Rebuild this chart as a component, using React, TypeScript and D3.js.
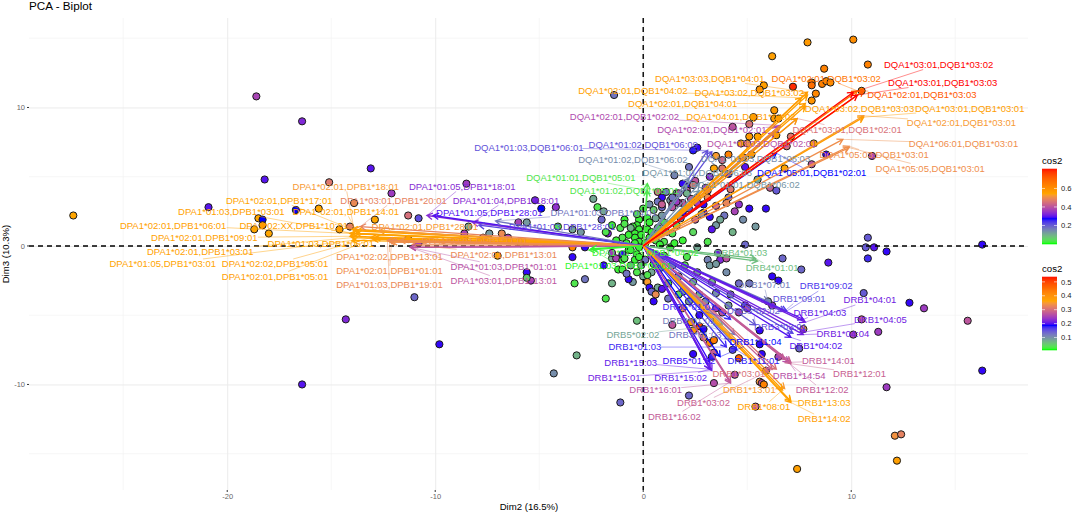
import React, { useEffect, useRef } from "react";
import * as d3 from "d3";

// [dim2, dim3, cos2]
type Ind = [number, number, number];
// [name, tip dim2, tip dim3, label dim2, label dim3, cos2]
type Var = [string, number, number, number, number, number];

const leftInds: Ind[] = [
  [-27.4, 2.2, 0.36], [-18.6, 10.8, 0.25], [-16.4, 9.0, 0.22], [-18.2, 4.8, 0.2], [-20.9, 2.8, 0.2],
  [-15.1, 4.6, 0.31], [-13.1, 5.6, 0.2], [-18.5, 2.0, 0.36], [-18.3, 1.9, 0.185], [-18.3, 1.5, 0.38],
  [-18.7, 1.2, 0.36], [-18.0, 0.9, 0.36], [-16.7, 2.6, 0.185], [-15.6, 2.7, 0.36], [-14.6, 1.2, 0.37],
  [-14.1, 1.4, 0.32], [-13.9, 3.1, 0.33], [-8.5, 4.5, 0.24], [-12.1, 3.8, 0.24], [-12.9, 1.9, 0.36],
  [-11.3, 2.2, 0.3], [-10.8, 2.0, 0.15], [-5.2, 3.3, 0.21], [-4.9, 2.7, 0.185], [-4.2, 2.8, 0.23],
  [-2.4, 3.4, 0.08], [-2.2, 2.8, 0.03], [-1.9, 2.5, 0.08], [-0.9, 1.9, 0.02], [-2.0, 1.9, 0.13],
  [-5.6, 1.7, 0.09], [-6.0, 1.7, 0.25], [-4.1, 1.4, 0.03], [-3.4, 1.2, 0.08], [-3.0, 1.0, 0.09],
  [-1.7, 0.9, 0.22], [-8.4, 1.4, 0.08], [-8.6, 0.6, 0.36], [-8.6, 0.9, 0.25], [-11.3, 0.5, 0.37],
  [-10.8, 0.2, 0.25], [-7.7, 0.6, 0.33], [-7.4, 0.9, 0.09], [-6.8, 0.9, 0.33], [-6.5, 0.6, 0.25],
  [-5.9, 0.2, 0.05], [-3.4, -0.1, 0.42], [-2.8, -0.1, 0.19], [-3.4, -0.8, 0.19], [-1.9, -1.4, 0.19],
  [-5.6, -1.9, 0.19], [-5.4, -2.5, 0.24], [-5.6, -2.3, 0.05], [-3.3, -2.7, 0.03], [-2.8, -2.4, 0.12],
  [-1.5, -2.7, 0.07], [-1.8, -3.8, 0.03], [-11.0, -3.7, 0.13], [-7.0, -0.7, 0.36], [-14.3, -5.3, 0.22],
  [-9.8, -7.1, 0.19], [-4.3, -9.2, 0.1], [-3.2, -7.9, 0.07], [-1.1, -11.3, 0.13], [-16.4, -10.0, 0.2],
  [-0.3, -5.4, 0.06], [2.2, -10.8, 0.13],
];

const upperInds: Ind[] = [
  [10.1, 14.9, 0.4], [7.9, 14.7, 0.38], [6.2, 13.7, 0.37], [10.8, 13.1, 0.42], [8.7, 12.8, 0.42],
  [8.1, 11.8, 0.43], [8.1, 11.6, 0.45], [7.2, 11.5, 0.52], [5.8, 11.6, 0.37], [5.6, 11.3, 0.39],
  [8.6, 11.7, 0.42], [8.8, 11.9, 0.41], [9.0, 11.8, 0.4], [10.5, 11.2, 0.41], [8.3, 11.0, 0.41],
  [8.1, 10.5, 0.39], [6.3, 9.8, 0.38], [6.3, 9.2, 0.38], [6.5, 9.2, 0.37], [5.3, 9.3, 0.37],
  [5.1, 8.8, 0.31], [4.3, 8.6, 0.27], [5.1, 7.9, 0.38], [5.5, 7.9, 0.36], [6.4, 8.0, 0.36],
  [7.1, 7.9, 0.31], [4.7, 7.4, 0.36], [5.0, 7.4, 0.34], [6.9, 7.2, 0.3], [8.2, 7.4, 0.36],
  [8.8, 6.6, 0.19], [11.0, 6.5, 0.25], [8.1, 5.9, 0.27], [6.8, 5.6, 0.36], [5.5, 4.8, 0.08],
  [6.1, 4.2, 0.28], [6.4, 4.0, 0.14], [4.6, 3.0, 0.23], [5.1, 2.7, 0.19], [5.9, 2.7, 0.19],
  [4.1, 3.5, 0.14], [4.0, 3.1, 0.32], [-1.4, 10.9, 0.12], [2.6, 7.1, 0.19], [2.4, 6.9, 0.18],
  [4.1, 6.6, 0.42], [3.5, 6.5, 0.35], [5.2, 6.6, 0.37], [4.8, 6.4, 0.35], [3.8, 6.2, 0.29],
  [3.4, 5.6, 0.36], [4.9, 5.7, 0.2], [4.1, 5.2, 0.19], [3.8, 5.6, 0.31], [2.2, 5.7, 0.12],
  [1.5, 5.1, 0.11], [3.2, 5.0, 0.22], [2.5, 4.7, 0.27], [2.1, 4.3, 0.19], [1.9, 4.5, 0.19],
  [2.4, 4.4, 0.31], [3.0, 4.2, 0.24], [4.2, 4.1, 0.31], [0.7, 3.9, 0.29], [0.9, 3.5, 0.19],
  [0.7, 3.2, 0.12], [0.9, 2.8, 0.13], [1.3, 3.3, 0.09], [1.6, 3.8, 0.1], [1.7, 3.8, 0.27],
  [2.1, 4.0, 0.27], [1.9, 3.1, 0.27], [1.7, 3.1, 0.26], [1.4, 3.0, 0.26], [2.6, 3.5, 0.28],
  [3.1, 4.0, 0.27], [3.1, 3.5, 0.33], [2.9, 3.0, 0.19], [2.6, 3.1, 0.24],
  [2.3, 3.4, 0.27], [3.5, 2.9, 0.28], [2.9, 2.4, 0.2], [1.9, 2.4, 0.19], [4.4, 2.5, 0.25],
  [3.9, 2.2, 0.12], [4.8, 1.9, 0.1], [5.4, 1.4, 0.09], [4.3, 1.0, 0.07], [0.9, 2.2, 0.09],
  [1.8, 2.0, 0.1], [0.3, 3.0, 0.1], [1.1, 3.9, 0.12], [2.8, 2.3, 0.1],
];

const lowerInds: Ind[] = [
  [12.8, -4.1, 0.19], [13.5, -4.5, 0.24], [10.6, -3.4, 0.14], [10.5, -5.3, 0.28], [10.1, -6.4, 0.25],
  [11.3, -6.2, 0.24], [7.5, -7.4, 0.13], [7.7, -6.0, 0.34], [11.7, -10.2, 0.24], [12.1, -13.7, 0.34],
  [12.4, -13.6, 0.32], [12.2, -15.5, 0.37], [7.4, -16.1, 0.37], [5.4, -11.6, 0.28], [8.9, -1.2, 0.2],
  [7.6, -1.7, 0.13], [6.7, -0.9, 0.13], [6.2, -2.2, 0.19], [6.5, -2.5, 0.19], [4.6, -2.7, 0.13],
  [5.1, -2.7, 0.12], [6.2, -4.3, 0.23], [6.0, -4.0, 0.1], [4.2, -3.5, 0.07], [3.5, -3.4, 0.1],
  [2.7, -3.5, 0.07], [4.9, -4.3, 0.15], [4.1, -4.3, 0.09], [3.8, -4.8, 0.27], [4.6, -4.8, 0.25],
  [5.0, -4.5, 0.26], [3.5, -4.5, 0.24], [2.7, -5.0, 0.19], [1.9, -4.5, 0.34], [2.2, -4.0, 0.09],
  [1.4, -5.7, 0.27], [2.3, -5.5, 0.36], [2.4, -6.1, 0.38], [2.7, -5.8, 0.5], [2.9, -6.0, 0.19],
  [2.9, -6.6, 0.33], [3.2, -7.0, 0.4], [3.4, -6.8, 0.43], [3.4, -7.7, 0.28], [2.4, -7.8, 0.19],
  [3.3, -8.0, 0.17], [4.3, -7.5, 0.15], [5.6, -6.1, 0.19], [5.6, -7.1, 0.19], [5.7, -7.8, 0.19],
  [6.5, -8.0, 0.25], [4.6, -8.1, 0.47], [5.9, -9.0, 0.26], [4.4, -9.3, 0.25], [3.4, -9.9, 0.26],
  [5.6, -9.8, 0.34], [5.7, -9.9, 0.27], [5.8, -10.0, 0.42], [3.6, -0.5, 0.21], [3.7, -1.0, 0.22],
  [4.0, -0.9, 0.27], [3.1, -1.0, 0.11], [3.2, -1.4, 0.09], [3.5, -1.3, 0.09], [4.9, 0.1, 0.13],
  [2.6, -0.1, 0.08], [10.7, -0.1, 0.14], [11.1, -0.1, 0.2], [11.7, -0.4, 0.19], [10.8, -0.9, 0.17],
  [10.8, 0.6, 0.14], [16.3, 0.1, 0.19], [16.3, -9.0, 0.19], [15.6, -5.4, 0.27],
  [0.5, -4.0, 0.19], [1.2, -3.8, 0.12], [1.9, -3.3, 0.08], [3.0, -4.0, 0.1], [3.3, -2.6, 0.07],
  [4.0, -1.9, 0.1], [2.6, -1.9, 0.08],
];

const centreInds: Ind[] = [
  [-1.5, -0.9, 0.08], [-0.6, -1.4, 0.07], [-0.5, -2.6, 0.09], [0.8, -1.6, 0.09], [1.4, -1.4, 0.07],
  [1.7, -2.2, 0.06], [2.4, -2.6, 0.07],
  [0.0, 2.7, 0.03], [0.2, 2.0, 0.02], [-0.2, 1.9, 0.02], [0.6, 2.0, 0.08], [-0.3, 1.5, 0.02],
  [-0.5, 1.4, 0.02], [0.2, 1.2, 0.02], [-0.2, 1.2, 0.02], [-0.4, 0.9, 0.02], [-0.6, 1.3, 0.07],
  [-0.1, 0.8, 0.02], [-0.4, 0.6, 0.02], [-0.2, 0.3, 0.02], [0.7, 1.3, 0.02], [0.8, 0.9, 0.02],
  [1.1, 1.0, 0.07], [1.9, 0.4, 0.02], [1.4, 0.9, 0.03], [2.4, 1.0, 0.04], [3.1, 0.3, 0.03],
  [3.5, 1.5, 0.09], [3.3, 1.2, 0.2], [2.5, 1.9, 0.27], [3.7, 1.9, 0.08], [3.2, 2.1, 0.19],
  [2.2, 2.7, 0.13], [1.4, 2.8, 0.27], [1.6, 3.2, 0.24], [0.9, 3.0, 0.28], [2.1, 3.8, 0.07],
  [1.4, 3.5, 0.12], [0.3, 1.7, 0.02], [-0.7, 0.8, 0.02], [-1.0, 0.6, 0.03], [0.3, 0.6, 0.02],
  [-0.4, 0.2, 0.02], [0.1, 0.2, 0.02], [0.6, 0.4, 0.03], [1.0, 0.3, 0.03], [-1.1, 1.3, 0.03],
  [-1.5, 1.5, 0.02], [-1.3, -0.9, 0.25], [-1.0, -1.0, 0.02], [-0.7, -0.3, 0.02], [-0.3, -0.6, 0.02],
  [-0.2, -0.1, 0.02], [-0.4, -1.0, 0.02], [-1.2, -1.7, 0.02], [-1.0, -1.7, 0.03], [0.1, -1.0, 0.12],
  [-0.1, -1.4, 0.08], [-1.0, -0.6, 0.19], [-1.5, -0.5, 0.24], [-0.7, -2.4, 0.19], [-0.8, -2.0, 0.12],
  [0.0, -2.2, 0.08], [-0.3, -1.9, 0.03], [0.2, -2.6, 0.35], [0.3, -3.0, 0.19], [0.4, -3.3, 0.13],
  [0.6, -3.5, 0.33], [0.7, -3.0, 0.08], [0.9, -3.1, 0.2], [0.4, -1.9, 0.08], [0.2, -2.1, 0.03],
  [1.2, -2.7, 0.03], [2.0, -1.4, 0.03], [2.1, -0.8, 0.03], [1.3, -0.1, 0.02], [0.8, 0.1, 0.02],
  [1.7, -3.5, 0.04],
  [-1.8, 1.0, 0.03], [-1.3, 0.4, 0.02], [-0.8, 0.2, 0.02], [-0.6, -0.3, 0.02], [-0.9, -0.9, 0.03],
  [-0.2, -0.8, 0.02], [0.4, -0.5, 0.02], [0.5, -1.3, 0.03], [1.0, -0.7, 0.03], [1.5, 0.2, 0.02],
  [0.4, 1.0, 0.02], [-0.9, 1.6, 0.03], [-0.3, 2.3, 0.03], [0.5, 2.6, 0.05], [1.0, 1.7, 0.03],
  [1.6, 1.5, 0.04],
];

const dpVars: Var[] = [
  ["DPA1*02:01,DPB1*18:01", -13.9, 1.2, -14.3, 4.3, 0.52],
  ["DPA1*02:01,DPB1*17:01", -14, 1.2, -17.5, 3.3, 0.54],
  ["DPA1*03:01,DPB1*20:01", -13.6, 1.4, -12, 3.3, 0.48],
  ["DPA1*01:03,DPB1*03:01", -14, 0.9, -19.8, 2.5, 0.55],
  ["DPA1*02:01,DPB1*14:01", -13.8, 1.1, -14.3, 2.5, 0.55],
  ["DPA1*02:01,DPB1*06:01", -14.1, 0.9, -22.6, 1.5, 0.55],
  ["DPA1*02:XX,DPB1*10:01", -13.8, 0.9, -16.8, 1.5, 0.55],
  ["DPA1*02:01,DPB1*09:01", -14.1, 0.7, -21.1, 0.6, 0.55],
  ["DPA1*01:03,DPB1*06:01", -12.9, 0.6, -15.5, 0.2, 0.54],
  ["DPA1*02:01,DPB1*03:01", -14, 0.6, -21.3, -0.4, 0.55],
  ["DPA1*01:05,DPB1*03:01", -14, 0.4, -23.1, -1.3, 0.54],
  ["DPA1*02:02,DPB1*05:01", -13.1, 0.6, -17.7, -1.3, 0.56],
  ["DPA1*02:01,DPB1*05:01", -13, 0.5, -17.7, -2.2, 0.56],
  ["DPA1*02:02,DPB1*13:01", -12.2, 0.3, -12.2, -0.8, 0.5],
  ["DPA1*02:01,DPB1*01:01", -12.1, 0.3, -12.2, -1.8, 0.5],
  ["DPA1*01:03,DPB1*19:01", -12.3, 0.4, -12.2, -2.8, 0.49],
  ["DPA1*02:01,DPB1*13:01", -11.1, 0.1, -6.7, -0.6, 0.49],
  ["DPA1*01:03,DPB1*01:01", -11.2, -0.1, -6.7, -1.5, 0.39],
  ["DPA1*03:01,DPB1*13:01", -11.2, -0.1, -6.7, -2.5, 0.4],
  ["DPA1*01:05,DPB1*18:01", -10.4, 2.2, -8.7, 4.3, 0.33],
  ["DPA1*01:04,DPB1*18:01", -8.2, 1.7, -6.6, 3.3, 0.33],
  ["DPA1*01:05,DPB1*28:01", -10.1, 2.2, -7.4, 2.4, 0.29],
  ["DPA1*01:03,DPB1*04:01", -7.1, 1.8, -1.9, 2.4, 0.17],
  ["DPA1*01:03,DPB1*28:01", -7.9, 1.5, -3.9, 1.4, 0.22],
  ["DPA1*02:01,DPB1*28:01", -12.7, 1.1, -10.5, 1.4, 0.52],
  ["DPA1*02:01,DPB1*11:01", -11.7, 0.4, -8.1, 0.4, 0.5],
  ["DPA1*01:03,DPB1*04:02", -2.6, -0.3, 0.1, -0.5, 0.02],
  ["DPA1*01:03,DPB1*02:01", -2.5, -0.2, -1.2, -1.4, 0.01],
];

const drVars: Var[] = [
  ["DRB4*01:03", 5.5, -1.1, 4.7, -0.5, 0.08],
  ["DRB4*01:01", 5.4, -0.9, 6.2, -1.6, 0.08],
  ["DRB1*07:01", 6.0, -4.0, 5.8, -2.8, 0.16],
  ["DRB1*09:02", 6.9, -4.7, 8.8, -2.9, 0.24],
  ["DRB1*09:01", 6.8, -4.7, 7.5, -3.8, 0.21],
  ["DRB1*04:01", 7.8, -5.5, 10.9, -3.9, 0.31],
  ["DRB1*04:03", 7.7, -5.3, 8.5, -4.8, 0.3],
  ["DRB1*04:05", 7.8, -6.2, 11.4, -5.3, 0.31],
  ["DRB1*04:04", 7.7, -6.4, 9.6, -6.3, 0.31],
  ["DRB1*04:02", 7.1, -6.6, 8.3, -7.2, 0.29],
  ["DRB3*03:01", 7.2, -6.3, 6.6, -5.8, 0.22],
  ["DRB5*01:01", 4.2, -5.3, 2.2, -4.4, 0.25],
  ["DRB3*02:02", 5.4, -5.7, 5.3, -4.7, 0.2],
  ["DRB3*01:01", 4.4, -6.4, 2.2, -5.4, 0.16],
  ["DRB5*02:02", 3.8, -5.7, -0.5, -6.4, 0.11],
  ["DRB3*01:03", 4.2, -6.8, 2.5, -6.4, 0.17],
  ["DRB1*01:03", 4.0, -7.3, -0.4, -7.3, 0.25],
  ["DRB1*11:04", 3.7, -8.0, 5.4, -6.9, 0.27],
  ["DRB1*11:01", 4.5, -7.5, 5.3, -8.3, 0.26],
  ["DRB5*01:02", 3.2, -8.4, 2.2, -8.3, 0.28],
  ["DRB1*15:03", 3.2, -8.9, -0.6, -8.4, 0.3],
  ["DRB1*15:01", 3.3, -9.0, -1.4, -9.5, 0.31],
  ["DRB1*15:02", 3.2, -8.9, 1.8, -9.5, 0.3],
  ["DRB1*16:01", 4.2, -9.9, 0.6, -10.4, 0.4],
  ["DRB1*16:02", 4.2, -9.8, 1.5, -12.3, 0.41],
  ["DRB1*03:02", 6.2, -8.9, 2.9, -11.3, 0.42],
  ["DRB1*03:01", 6.4, -8.9, 4.6, -9.2, 0.45],
  ["DRB1*14:01", 7.1, -8.4, 8.9, -8.3, 0.41],
  ["DRB1*14:54", 7.0, -8.4, 7.5, -9.4, 0.39],
  ["DRB1*12:01", 7.1, -8.5, 10.4, -9.2, 0.42],
  ["DRB1*12:02", 6.8, -8.2, 8.6, -10.4, 0.41],
  ["DRB1*13:01", 6.8, -10.3, 5.1, -10.4, 0.52],
  ["DRB1*13:03", 7.1, -11.2, 8.7, -11.3, 0.54],
  ["DRB1*14:02", 7.1, -11.3, 8.7, -12.5, 0.56],
  ["DRB1*08:01", 6.7, -10.4, 5.8, -11.6, 0.55],
];

const dqVars: Var[] = [
  ["DQA1*01:03,DQB1*06:01", 3.1, 6.9, -5.5, 7.1, 0.21],
  ["DQA1*01:02,DQB1*06:09", 3.3, 6.8, 0, 7.3, 0.21],
  ["DQA1*01:02,DQB1*06:02", 2.2, 4.9, -0.5, 6.2, 0.14],
  ["DQA1*01:01,DQB1*06:03", 2.1, 4.4, 2.6, 5.3, 0.13],
  ["DQA1*01:03,DQB1*06:03", 2.7, 4.5, 5.4, 6.3, 0.14],
  ["DQA1*01:01,DQB1*06:02", 2.7, 4.0, 4.9, 4.4, 0.13],
  ["DQA1*01:01,DQB1*05:01", 0.2, 4.0, -3.0, 4.9, 0.03],
  ["DQA1*01:02,DQB1*05:01", 0.2, 4.5, -0.9, 4.0, 0.03],
  ["DQA1*05:01,DQB1*02:01", 6.4, 6.7, 8.1, 5.3, 0.27],
  ["DQA1*02:01,DQB1*02:02", 6.6, 8.7, -0.9, 9.3, 0.38],
  ["DQA1*02:01,DQB1*02:01", 6.5, 8.6, 3.3, 8.4, 0.38],
  ["DQA1*03:03,DQB1*02:01", 6.3, 8.2, 5.7, 7.4, 0.39],
  ["DQA1*03:01,DQB1*02:01", 7.4, 9.2, 9.8, 8.4, 0.45],
  ["DQA1*06:01,DQB1*03:01", 9.6, 7.7, 15.4, 7.4, 0.5],
  ["DQA1*05:03,DQB1*03:01", 9.9, 7.2, 11.1, 6.6, 0.5],
  ["DQA1*05:05,DQB1*03:01", 9.9, 7.1, 13.8, 5.6, 0.5],
  ["DQA1*02:01,DQB1*03:01", 10.6, 9.4, 15.3, 8.9, 0.52],
  ["DQA1*03:01,DQB1*03:01", 10.6, 9.3, 15.7, 9.9, 0.56],
  ["DQA1*03:02,DQB1*03:03", 7.8, 10.1, 10.4, 9.9, 0.56],
  ["DQA1*04:01,DQB1*04:02", 7.4, 9.2, 4.7, 9.3, 0.56],
  ["DQA1*02:01,DQB1*04:01", 7.8, 10.3, 1.9, 10.3, 0.56],
  ["DQA1*02:01,DQB1*04:02", 7.6, 10.7, -0.5, 11.2, 0.55],
  ["DQA1*03:02,DQB1*03:02", 7.9, 10.9, 5.1, 11.1, 0.55],
  ["DQA1*03:03,DQB1*04:01", 7.9, 11.1, 3.2, 12.1, 0.57],
  ["DQA1*02:01,DQB1*03:02", 10.3, 11.2, 8.8, 12.1, 0.66],
  ["DQA1*02:01,DQB1*03:03", 10.6, 11.2, 13.4, 10.9, 0.72],
  ["DQA1*03:01,DQB1*03:02", 10.1, 11.1, 14.2, 13.1, 0.81],
  ["DQA1*03:01,DQB1*03:03", 10.3, 10.9, 14.4, 11.8, 0.81],
];

const xTicks = [-20, -10, 0, 10];
const yTicks = [-10, 0, 10];
const xMinor = [-25, -15, -5, 5, 15];
const yMinor = [-15, -5, 5, 15];
const gradientColors = ["#00ff00", "#0000ff", "#ffa500", "#ff0000"];
const varLegendTicks = [0.2, 0.4, 0.6];
const indLegendTicks = [0.1, 0.2, 0.3, 0.4, 0.5];

const gradientScale = (lo: number, hi: number) =>
  d3
    .scaleLinear<string>()
    .domain(d3.quantize(d3.interpolate(lo, hi), gradientColors.length))
    .range(gradientColors)
    .interpolate(d3.interpolateLab);

export default function App() {
  const svgRef = useRef<SVGSVGElement>(null);
  const width = 1074;
  const height = 514;

  useEffect(() => {
    if (!svgRef.current) return;
    const svg = d3.select(svgRef.current);
    svg.selectAll("*").remove();
    svg.style("font-family", "'Liberation Sans', Arial, sans-serif");

    const panel = { left: 29, right: 1028, top: 18, bottom: 490 };
    const x = d3.scaleLinear().domain([-29.53, 18.5]).range([panel.left, panel.right]);
    const y = d3.scaleLinear().domain([16.46, -17.62]).range([panel.top, panel.bottom]);
    const varColor = gradientScale(0, 0.81);
    const indColor = gradientScale(0.01, 0.535);

    // grid
    const grid = svg.append("g").attr("fill", "none");
    grid
      .selectAll("line.minorx")
      .data(xMinor)
      .enter()
      .append("line")
      .attr("x1", (d) => x(d))
      .attr("x2", (d) => x(d))
      .attr("y1", panel.top)
      .attr("y2", panel.bottom)
      .attr("stroke", "#f2f2f2")
      .attr("stroke-width", 0.7);
    grid
      .selectAll("line.minory")
      .data(yMinor)
      .enter()
      .append("line")
      .attr("x1", panel.left)
      .attr("x2", panel.right)
      .attr("y1", (d) => y(d))
      .attr("y2", (d) => y(d))
      .attr("stroke", "#f2f2f2")
      .attr("stroke-width", 0.7);

    const xAxis = svg
      .append("g")
      .attr("transform", `translate(0,${panel.bottom})`)
      .call(
        d3
          .axisBottom(x)
          .tickValues(xTicks)
          .tickSize(-(panel.bottom - panel.top))
          .tickPadding(4)
          .tickFormat((d) => String(d))
      );
    xAxis.select(".domain").remove();
    xAxis.selectAll("line").attr("stroke", "#ebebeb").attr("stroke-width", 1);
    xAxis.selectAll("text").attr("fill", "#666").style("font-size", "7.5px");

    const yAxis = svg
      .append("g")
      .attr("transform", `translate(${panel.left},0)`)
      .call(
        d3
          .axisLeft(y)
          .tickValues(yTicks)
          .tickSize(-(panel.right - panel.left))
          .tickPadding(4)
          .tickFormat((d) => String(d))
      );
    yAxis.select(".domain").remove();
    yAxis.selectAll("line").attr("stroke", "#ebebeb").attr("stroke-width", 1);
    yAxis.selectAll("text").attr("fill", "#666").style("font-size", "7.5px");

    // small black tick marks
    svg
      .selectAll("line.xtick")
      .data(xTicks)
      .enter()
      .append("line")
      .attr("x1", (d) => x(d))
      .attr("x2", (d) => x(d))
      .attr("y1", panel.bottom)
      .attr("y2", panel.bottom + 2)
      .attr("stroke", "#333");
    svg
      .selectAll("line.ytick")
      .data(yTicks)
      .enter()
      .append("line")
      .attr("x1", panel.left - 2)
      .attr("x2", panel.left)
      .attr("y1", (d) => y(d))
      .attr("y2", (d) => y(d))
      .attr("stroke", "#333");

    // individuals
    const inds = [...leftInds, ...upperInds, ...lowerInds, ...centreInds];
    svg
      .append("g")
      .selectAll("circle")
      .data(inds)
      .enter()
      .append("circle")
      .attr("cx", (d) => x(d[0]))
      .attr("cy", (d) => y(d[1]))
      .attr("r", 3.6)
      .attr("fill", (d) => indColor(d[2]))
      .attr("stroke", "#1a1a1a")
      .attr("stroke-width", 1);

    // reference lines
    const refLine = (x1: number, y1: number, x2: number, y2: number) =>
      svg
        .append("line")
        .attr("x1", x1)
        .attr("y1", y1)
        .attr("x2", x2)
        .attr("y2", y2)
        .attr("stroke", "#000")
        .attr("stroke-width", 1.4)
        .attr("stroke-dasharray", "5,4");
    refLine(panel.left, y(0), panel.right, y(0));
    refLine(x(0), panel.top, x(0), panel.bottom);

    // variable arrows, then leader segments and labels
    const vars = [...dpVars, ...drVars, ...dqVars];
    const arrowPath = (d: Var) => {
      const tx = x(d[1]);
      const ty = y(d[2]);
      const a = Math.atan2(ty - y(0), tx - x(0));
      const len = 6.5;
      const spread = Math.PI / 6;
      const p = d3.path();
      p.moveTo(x(0), y(0));
      p.lineTo(tx, ty);
      p.moveTo(tx - len * Math.cos(a - spread), ty - len * Math.sin(a - spread));
      p.lineTo(tx, ty);
      p.lineTo(tx - len * Math.cos(a + spread), ty - len * Math.sin(a + spread));
      return p.toString();
    };
    svg
      .append("g")
      .attr("fill", "none")
      .selectAll("path")
      .data(vars)
      .enter()
      .append("path")
      .attr("d", arrowPath)
      .attr("stroke", (d) => varColor(d[5]))
      .attr("stroke-width", 1.3);

    // leader from arrow tip to the edge of the label box
    const leaderEnd = (d: Var): [number, number] | null => {
      const tx = x(d[1]);
      const ty = y(d[2]);
      const lx = x(d[3]);
      const ly = y(d[4]);
      const hw = d[0].length * 2.55;
      const hh = 5;
      const dx = tx - lx;
      const dy = ty - ly;
      if (Math.abs(dx) <= hw && Math.abs(dy) <= hh) return null;
      const t = Math.min(hw / Math.abs(dx || 1e-6), hh / Math.abs(dy || 1e-6));
      return [lx + dx * t, ly + dy * t];
    };
    svg
      .append("g")
      .selectAll("line")
      .data(vars.filter((d) => leaderEnd(d)))
      .enter()
      .append("line")
      .attr("x1", (d) => x(d[1]))
      .attr("y1", (d) => y(d[2]))
      .attr("x2", (d) => leaderEnd(d)![0])
      .attr("y2", (d) => leaderEnd(d)![1])
      .attr("stroke", (d) => varColor(d[5]))
      .attr("stroke-width", 0.6)
      .attr("opacity", 0.75);
    svg
      .append("g")
      .selectAll("text")
      .data(vars)
      .enter()
      .append("text")
      .attr("x", (d) => x(d[3]))
      .attr("y", (d) => y(d[4]))
      .attr("dy", "0.35em")
      .attr("text-anchor", "middle")
      .attr("fill", (d) => varColor(d[5]))
      .style("font-size", "9.5px")
      .text((d) => d[0]);

    // titles
    svg
      .append("text")
      .attr("x", panel.left)
      .attr("y", 9.5)
      .attr("fill", "#000")
      .style("font-size", "11.7px")
      .text("PCA - Biplot");
    svg
      .append("text")
      .attr("x", (panel.left + panel.right) / 2 + 0.5)
      .attr("y", 510)
      .attr("text-anchor", "middle")
      .attr("fill", "#000")
      .style("font-size", "9.6px")
      .text("Dim2 (16.5%)");
    svg
      .append("text")
      .attr("transform", `translate(9,${(panel.top + panel.bottom) / 2}) rotate(-90)`)
      .attr("text-anchor", "middle")
      .attr("fill", "#000")
      .style("font-size", "9.6px")
      .text("Dim3 (10.3%)");

    // colour bars
    const drawLegend = (
      lo: number,
      hi: number,
      top: number,
      bottom: number,
      ticks: number[],
      color: (v: number) => string
    ) => {
      const barX = 1042;
      const barW = 15;
      const scale = d3.scaleLinear().domain([lo, hi]).range([bottom, top]);
      const g = svg.append("g");
      g.append("text")
        .attr("x", barX)
        .attr("y", top - 5)
        .attr("fill", "#000")
        .style("font-size", "9.6px")
        .text("cos2");
      const steps = d3.range(0, 75).map((i) => lo + ((hi - lo) * i) / 75);
      const stepH = (bottom - top) / 75;
      g.selectAll("rect")
        .data(steps)
        .enter()
        .append("rect")
        .attr("x", barX)
        .attr("y", (d) => scale(d) - stepH - 0.3)
        .attr("width", barW)
        .attr("height", stepH + 0.6)
        .attr("fill", (d) => color(d));
      ticks.forEach((t) => {
        g.append("line")
          .attr("x1", barX)
          .attr("x2", barX + 3)
          .attr("y1", scale(t))
          .attr("y2", scale(t))
          .attr("stroke", "#fff")
          .attr("stroke-width", 0.6);
        g.append("line")
          .attr("x1", barX + barW - 3)
          .attr("x2", barX + barW)
          .attr("y1", scale(t))
          .attr("y2", scale(t))
          .attr("stroke", "#fff")
          .attr("stroke-width", 0.6);
        g.append("text")
          .attr("x", barX + barW + 4)
          .attr("y", scale(t))
          .attr("dy", "0.35em")
          .attr("fill", "#222")
          .style("font-size", "7.6px")
          .text(String(t));
      });
    };
    drawLegend(0, 0.81, 169, 244, varLegendTicks, varColor);
    drawLegend(0.01, 0.535, 277, 350, indLegendTicks, indColor);
  }, []);

  return (
    <svg
      ref={svgRef}
      width={width}
      height={height}
      viewBox={`0 0 ${width} ${height}`}
      style={{ position: "absolute", left: 0, top: 0, background: "#fff" }}
    />
  );
}
